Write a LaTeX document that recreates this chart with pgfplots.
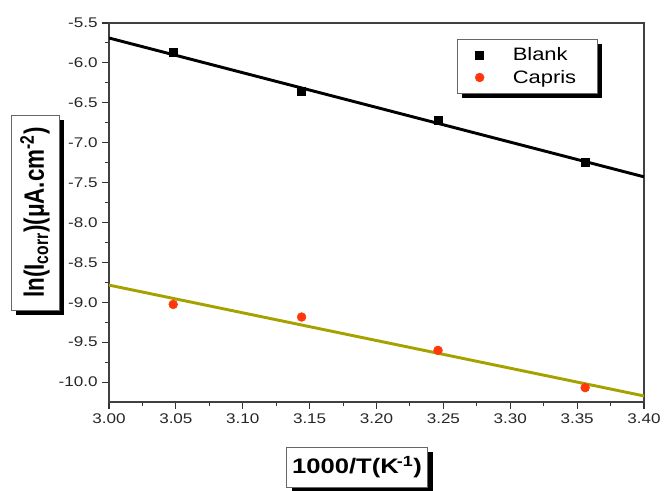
\documentclass[border=0pt]{standalone}
\usepackage{pgfplots}
\pgfplotsset{compat=1.18}
\usepackage{fontspec}
\setmainfont{Liberation Sans}
\newfontfamily\wfont[FakeStretch=1.22]{Liberation Sans}
\newfontfamily\rfont[FakeStretch=0.8]{Liberation Sans}
\usetikzlibrary{shadows}
\definecolor{olivel}{RGB}{165,162,0}
\definecolor{redo}{RGB}{255,55,10}
\begin{document}
\begin{tikzpicture}
\begin{axis}[
  scale only axis, width=401.25pt, height=284.25pt,
  xmin=3.0, xmax=3.4, ymin=-10.25, ymax=-5.5,
  xtick={3.00,3.05,3.10,3.15,3.20,3.25,3.30,3.35,3.40}, minor x tick num=1,
  ytick={-10,-9.5,-9,-8.5,-8,-7.5,-7,-6.5,-6,-5.5}, minor y tick num=1,
  xtick pos=bottom, ytick pos=left, tick align=outside,
  major tick length=5pt, minor tick length=3pt,
  every tick/.style={black!80, line width=0.8pt},
  axis line style={black!75, line width=0.8pt},
  /pgf/number format/assume math mode=true,
  xticklabel style={/pgf/number format/.cd, fixed, fixed zerofill, precision=2},
  yticklabel style={/pgf/number format/.cd, fixed, fixed zerofill, precision=1},
  tick label style={font=\wfont\fontsize{10.5}{12}\selectfont, text=black!85},
  xlabel={1000/T(K\kern-0.1em\textsuperscript{-1})},
  ylabel={ln(I\textsubscript{corr})(μA.cm\textsuperscript{-2})},
  xlabel style={at={(axis description cs:0.4636,-0.1715)}, anchor=center,
    draw=black!60, fill=white, font=\wfont\bfseries\fontsize{15.75}{18}\selectfont,
    minimum width=105.75pt, minimum height=30pt, inner sep=2pt,
    drop shadow={shadow xshift=3.75pt, shadow yshift=-3.75pt, fill=black, opacity=1}},
  ylabel style={at={(axis description cs:-0.1383,0.5)}, anchor=center,
    draw=black!60, fill=white, font=\rfont\bfseries\fontsize{21}{24}\selectfont,
    minimum width=146.25pt, minimum height=36pt, inner sep=2pt,
    drop shadow={shadow xshift=3.75pt, shadow yshift=-3.75pt, fill=black, opacity=1}},
  legend cell align=left,
  legend style={at={(axis description cs:0.6505,0.9578)}, anchor=north west,
    draw=black!60, fill=white,
    font=\wfont\fontsize{13.5}{15}\selectfont, row sep=1.75pt,
    inner xsep=13.5pt, inner ysep=4pt,
    drop shadow={shadow xshift=3.75pt, shadow yshift=-3.75pt, fill=black, opacity=1}},
]
\addplot[only marks, mark=square*, mark size=3pt, black] coordinates {
  (3.048,-5.867) (3.144,-6.356) (3.246,-6.719) (3.356,-7.245)};
\addlegendentry{\hspace{19.5pt}Blank\hspace{-14pt}}
\addplot[only marks, mark=*, mark size=3.3pt, redo, mark options={draw=redo, fill=redo}] coordinates {
  (3.048,-9.027) (3.144,-9.185) (3.246,-9.603) (3.356,-10.07)};
\addlegendentry{\hspace{19.5pt}Capris\hspace{-14pt}}
\addplot[black, line width=2.2pt, forget plot] coordinates {(3.0,-5.688) (3.4,-7.428)};
\addplot[olivel, line width=2.2pt, forget plot] coordinates {(3.0,-8.785) (3.4,-10.174)};
\end{axis}
\path (current axis.south west) +(-81.75pt,301.5pt) +(417.75pt,-66.75pt);
\end{tikzpicture}
\end{document}
